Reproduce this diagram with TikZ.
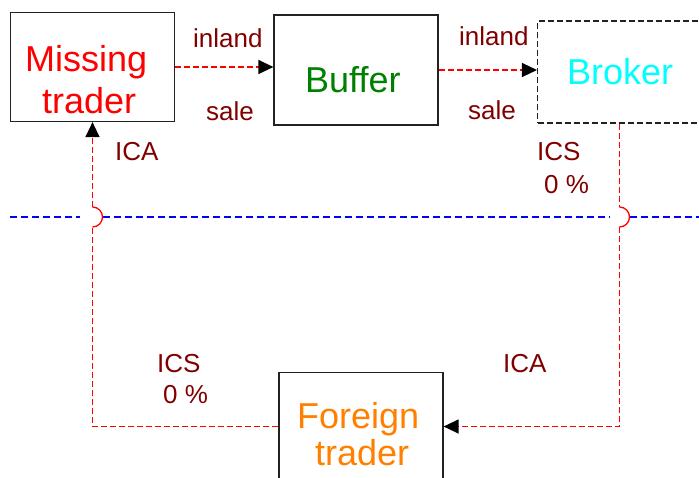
\documentclass[tikz,border=0pt]{standalone}
\usepackage{fontspec}
\setmainfont{Liberation Sans}
\usetikzlibrary{arrows.meta,calc}
\definecolor{labelred}{HTML}{800000}
\definecolor{flowred}{HTML}{FF0000}
\definecolor{linkblue}{HTML}{0000FF}
\definecolor{boxgray}{HTML}{222222}
\definecolor{brokercyan}{HTML}{00FFFF}
\definecolor{foreignorange}{HTML}{FF8000}
\definecolor{buffergreen}{HTML}{008000}
\tikzset{
  partybox/.style={draw=boxgray, line width=1.2pt, minimum width=164pt, inner sep=0pt},
  bigtext/.style={font=\fontsize{36}{42}\selectfont, anchor=base west, inner sep=0pt},
  smalltext/.style={font=\fontsize{26}{31}\selectfont, text=labelred, anchor=base west, inner sep=0pt},
  flow/.style={draw=flowred, line width=1.3pt, dash pattern=on 6pt off 3pt},
  flowtip/.style={-{Triangle[length=15pt,width=14pt,color=black]}},
  hop/.style={draw=flowred, line width=1.3pt, solid},
  borderline/.style={draw=linkblue, line width=1.4pt, dash pattern=on 7pt off 4pt}
}
\begin{document}
\begin{tikzpicture}[x=1pt, y=-1pt]
\useasboundingbox (0,0) rectangle (699,477);

% parties
\node[partybox, minimum height=109pt] (missing) at (92.5,67) {};
\node[partybox, minimum height=110pt] (buffer) at (356,70) {};
\node[partybox, minimum height=102pt, line width=1.1pt, dash pattern=on 6pt off 3pt] (broker) at (619.5,72) {};
\node[partybox, minimum height=108pt] (foreign) at (361,426.5) {};

\node[bigtext, text=red] (missingA) at (25,71) {Missing};
\node[bigtext, text=red] (missingB) at (42,113) {trader};
\node[bigtext, text=buffergreen] (buffertxt) at (305,92) {Buffer};
\node[bigtext, text=brokercyan] (brokertxt) at (567,84) {Broker};
\node[bigtext, text=foreignorange] (foreignA) at (297,428) {Foreign};
\node[bigtext, text=foreignorange] (foreignB) at (315,465) {trader};

% flow labels
\node[smalltext] (inland1) at (193,47) {inland};
\node[smalltext] (sale1) at (206,120) {sale};
\node[smalltext] (inland2) at (459,45) {inland};
\node[smalltext] (sale2) at (468,119) {sale};
\node[smalltext] (ica1) at (115,160) {ICA};
\node[smalltext] (ics1) at (537,160) {ICS};
\node[smalltext] (pct1) at (544,193) {0 \%};
\node[smalltext] (ics2) at (157,372) {ICS};
\node[smalltext] (pct2) at (163,403) {0 \%};
\node[smalltext] (ica2) at (503,372) {ICA};

% border line with gaps at the crossings
\coordinate (jl) at (92.5,217);
\coordinate (jr) at (619.5,217);
\coordinate (bstart) at (10,217);
\coordinate (bend) at (699,217);
\draw[borderline] (bstart) -- ($(jl)+(-13,0)$);
\draw[borderline] ($(jl)+(10,0)$) -- ($(jr)+(-10,0)$);
\draw[borderline] ($(jr)+(10,0)$) -- (bend);

% flows
\draw[flow, flowtip] (missing.east) -- (missing.east -| buffer.west);
\draw[flow, flowtip] (buffer.east) -- (buffer.east -| broker.west);
\draw[flow] (broker.south) -- ($(jr)+(0,-10)$);
\draw[hop] ($(jr)+(0,-10)$) arc[start angle=90, end angle=-90, radius=10pt];
\draw[flow, flowtip] ($(jr)+(0,10)$) |- (foreign.east);
\draw[flow] (foreign.west) -| ($(jl)+(0,10)$);
\draw[hop] ($(jl)+(0,10)$) arc[start angle=-90, end angle=90, radius=10pt];
\draw[flow, flowtip] ($(jl)+(0,-10)$) -- (missing.south);
\end{tikzpicture}
\end{document}
